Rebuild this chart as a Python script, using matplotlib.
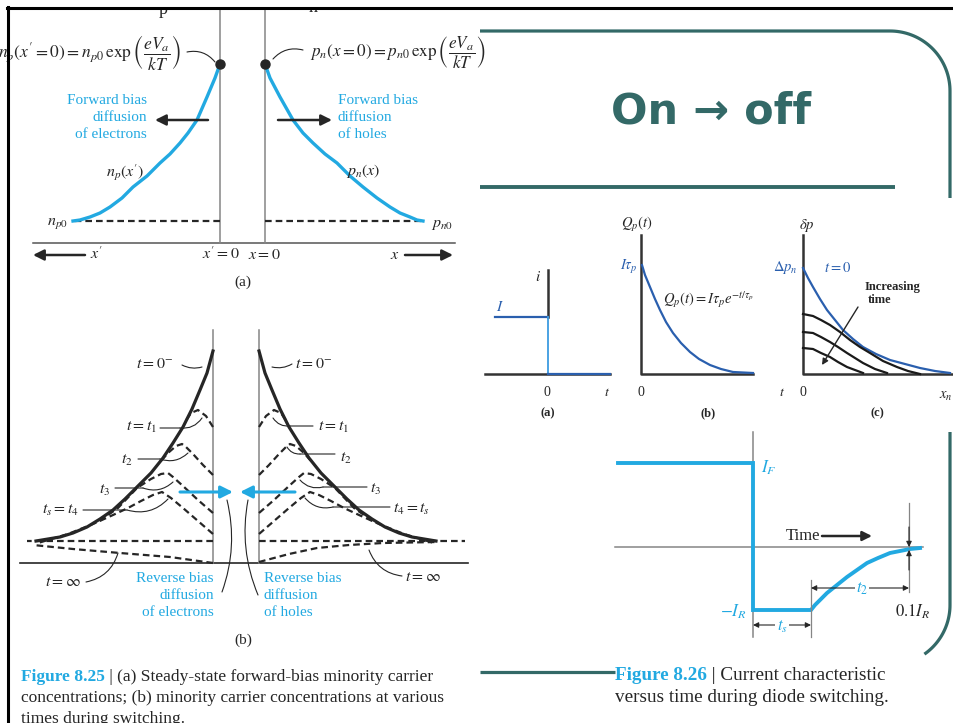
import numpy as np
import matplotlib.pyplot as plt

plt.rcParams['font.family'] = ['Liberation Serif', 'DejaVu Serif']
plt.rcParams['mathtext.fontset'] = 'stix'

W, H = 954, 723
INK = '#262626'
GREY = '#858585'
CYAN = '#22a9e1'
NAVY = '#2a5fae'
SKY = '#3d9be0'
TEAL = '#336967'

# Fig 8.25(a): steady-state excess carriers vs distance from each depletion edge
fwd_dist_p = [0, 5, 13, 23, 32, 40, 50, 60, 73, 87, 98, 110, 120, 130, 140, 147]
fwd_dist_n = [0, 5, 15, 28, 38, 48, 60, 72, 85, 98, 112, 125, 135, 145, 152, 158]
fwd_conc = [179, 165, 146, 123, 110, 100, 89, 80, 67, 56, 45, 36, 30, 26, 23, 22]
fwd_equil = 22

# Fig 8.25(b): minority carrier profiles during switching
rev_dist = [0, 6, 13, 21, 30, 40, 50, 62, 76, 88, 100, 113, 126, 140, 153, 165, 177]
rev_conc_0 = [212, 190, 173, 154, 136, 120, 105, 90, 76, 64, 53, 44, 36, 30, 26, 24, 22]
rev_dist_t1 = [0, 7, 15, 22, 28]
rev_conc_t1 = [136, 147, 153, 150, 141]
rev_dist_t2 = [0, 10, 20, 27, 31, 37, 45, 53]
rev_conc_t2 = [88, 98, 109, 116, 119, 117, 110, 101]
rev_dist_t3 = [0, 15, 30, 40, 45, 52, 62, 76, 95, 115]
rev_conc_t3 = [50, 63, 77, 86, 90, 89, 84, 75, 55, 41]
rev_dist_t4 = [0, 15, 30, 42, 51, 60, 72, 85, 100, 120, 145, 175]
rev_conc_t4 = [29, 42, 55, 65, 71, 68, 62, 55, 48, 39, 29, 20]
rev_dist_inf_p = [0, 43, 93, 140, 180]
rev_conc_inf_p = [0, 6, 10, 14, 18]
rev_dist_inf_n = [0, 30, 58, 90, 124, 178]
rev_conc_inf_n = [1, 9, 15, 18, 20, 21]
rev_equil = 22

# small figure: (a) current step, (b) stored charge, (c) hole profiles
step_t = [-53, 0, 0, 62]
step_i = [57, 57, 0, 0]
charge_t = [1, 4, 9, 14, 19, 25, 32, 40, 49, 58, 69, 80, 92, 112]
charge_q = [109, 99, 87, 75, 64, 52, 41, 31, 22, 15, 9, 5, 2, 1]
prof_x0 = [0, 5, 10, 17, 24, 32, 40, 50, 60, 73, 87, 102, 117, 132, 147]
prof_y0 = [106, 96, 87, 75, 64, 54, 44, 35, 27, 20, 14, 10, 6, 3, 1]
prof_x1 = [0, 10, 18, 27, 37, 47, 57, 67, 80, 94, 105, 117]
prof_y1 = [60, 58, 54, 49, 42, 34, 27, 21, 13, 7, 3, 0]
prof_x2 = [0, 10, 18, 27, 35, 44, 52, 60, 72, 84]
prof_y2 = [42, 41, 37, 32, 27, 21, 16, 11, 5, 1]
prof_x3 = [0, 10, 18, 27, 35, 44, 52, 60]
prof_y3 = [26, 25, 21, 17, 12, 7, 4, 1]

# Fig 8.26: diode current during switching
sw_t = [-135, 0, 0, 58, 62, 68, 74, 84, 94, 104, 114, 125, 137, 147, 157, 167]
sw_i = [84, 84, -63, -63, -58, -52, -46, -38, -30, -23, -16, -11, -6, -4, -2, -1]
t_storage = 58
t_fall_end = 156

DASH = dict(color=INK, lw=1.6, ls=(0, (3, 1.8)))

fig = plt.figure(figsize=(W / 100, H / 100), dpi=100)


def panel(left, top, right, bottom, ox, oy):
    ax = fig.add_axes([left / W, 1 - bottom / H, (right - left) / W, (bottom - top) / H])
    ax.set_xlim(left - ox, right - ox)
    ax.set_ylim(oy - bottom, oy - top)
    ax.axis('off')
    return ax


def leader(ax, p1, p2, rad=0.0, lw=0.8):
    ax.annotate('', xy=p2, xytext=p1,
                arrowprops=dict(arrowstyle='-', color=INK, lw=lw, shrinkA=0, shrinkB=0,
                                connectionstyle=f'arc3,rad={rad}'))


def arrow(ax, tail, head, color=INK, lw=1.8, scale=16, style='-|>'):
    ax.annotate('', xy=head, xytext=tail,
                arrowprops=dict(arrowstyle=style, color=color, lw=lw, shrinkA=0, shrinkB=0,
                                mutation_scale=scale))


def mirrored(ax, dist, conc, edge, **kw):
    d = np.asarray(dist, dtype=float) + edge
    ax.plot(-d, conc, **kw)
    ax.plot(d, conc, **kw)


# ---- Figure 8.25(a)
ax = panel(0, 8, 480, 290, 242.5, 243)
edge = 22.5
ax.plot([-209.5, 212.5], [0, 0], color='#555555', lw=1.1)
for s in (-1, 1):
    ax.plot([s * edge, s * edge], [0, 240], color=GREY, lw=1.1)
ax.plot([-edge, -edge - fwd_dist_p[-1]], [fwd_equil] * 2, **DASH)
ax.plot([edge, edge + fwd_dist_n[-1] + 2], [fwd_equil] * 2, **DASH)
ax.plot(-(edge + np.array(fwd_dist_p)), fwd_conc, color=CYAN, lw=2.4)
ax.plot(edge + np.array(fwd_dist_n), fwd_conc, color=CYAN, lw=2.4)
ax.plot([-edge, edge], [fwd_conc[0]] * 2, 'o', color=INK, ms=6.5, zorder=4)

ax.text(-60.5, 190, r"$n_p(x' = 0) = n_{p0}\,\exp\left(\dfrac{eV_a}{kT}\right)$",
        ha='right', va='center', fontsize=12.6, color=INK)
ax.text(67.5, 190, r"$p_n(x = 0) = p_{n0}\,\exp\left(\dfrac{eV_a}{kT}\right)$",
        ha='left', va='center', fontsize=12.3, color=INK)
leader(ax, (-55.5, 191), (-27.5, 181), rad=-0.3)
leader(ax, (30.5, 184), (60.5, 193), rad=-0.3)
ax.text(-79.5, 229, 'p', ha='center', va='baseline', fontsize=13, color=INK)
ax.text(70.5, 231, 'n', ha='center', va='baseline', fontsize=13, color=INK)

for k, line in enumerate(['Forward bias', 'diffusion', 'of electrons']):
    ax.text(-95.5, 143 - 17.5 * k, line, ha='right', va='center', fontsize=11, color=CYAN)
for k, line in enumerate(['Forward bias', 'diffusion', 'of holes']):
    ax.text(95.5, 143 - 17.5 * k, line, ha='left', va='center', fontsize=11, color=CYAN)
arrow(ax, (-34.5, 123), (-87.5, 123))
arrow(ax, (35.5, 123), (89.5, 123))
ax.text(-117.5, 70, r"$n_p(x')$", ha='center', va='center', fontsize=11.5, color=INK)
ax.text(120.5, 72, r"$p_n(x)$", ha='center', va='center', fontsize=11.5, color=INK)
ax.text(-185.5, 20, r"$n_{p0}$", ha='center', va='center', fontsize=11.5, color=INK)
ax.text(199.5, 19, r"$p_{n0}$", ha='center', va='center', fontsize=11.5, color=INK)
arrow(ax, (-157.5, -12), (-209.5, -12))
arrow(ax, (162.5, -12), (210.5, -12))
ax.text(-146.5, -12, r"$x'$", ha='center', va='center', fontsize=11.5, color=INK)
ax.text(152.5, -12, r"$x$", ha='center', va='center', fontsize=11.5, color=INK)
ax.text(-2.5, -12, r"$x' = 0$", ha='right', va='center', fontsize=11.5, color=INK)
ax.text(5.5, -12, r"$x = 0$", ha='left', va='center', fontsize=11.5, color=INK)
ax.text(0.5, -39, '(a)', ha='center', va='center', fontsize=11, color=INK)

# ---- Figure 8.25(b)
ax = panel(0, 290, 480, 660, 236, 563)
edge = 23
ax.plot([-216, 232], [0, 0], color=INK, lw=1.2)
for s in (-1, 1):
    ax.plot([s * edge, s * edge], [0, 233], color=GREY, lw=1.1)
ax.plot([-edge, -209], [rev_equil] * 2, **DASH)
ax.plot([edge, 229], [rev_equil] * 2, **DASH)
for dist, conc in [(rev_dist_t1, rev_conc_t1), (rev_dist_t2, rev_conc_t2),
                   (rev_dist_t3, rev_conc_t3), (rev_dist_t4, rev_conc_t4)]:
    mirrored(ax, dist, conc, edge, **DASH)
ax.plot(-(edge + np.array(rev_dist_inf_p)), rev_conc_inf_p, **DASH)
ax.plot(edge + np.array(rev_dist_inf_n), rev_conc_inf_n, **DASH)
mirrored(ax, rev_dist, rev_conc_0, edge, color=INK, lw=2.3)

ax.text(-81, 199, r'$t = 0^{-}$', ha='center', va='center', fontsize=11.5, color=INK)
ax.text(59, 199, r'$t = 0^{-}$', ha='left', va='center', fontsize=11.5, color=INK)
leader(ax, (-54, 198), (-34, 196), rad=0.2)
leader(ax, (36, 196), (56, 199), rad=0.2)

left_labels = [(r'$t = t_1$', -79, 136, (-76, 135), (-56, 135), (-34, 145)),
               (r'$t_2$', -103, 103, (-98, 104), (-76, 104), (-48, 110)),
               (r'$t_3$', -126, 73, (-121, 75), (-93, 75), (-63, 81)),
               (r'$t_s = t_4$', -157, 53, (-153, 53), (-109, 53), (-68, 64))]
for txt, x, y, p0, p1, p2 in left_labels:
    ax.text(x, y, txt, ha='right', va='center', fontsize=11.5, color=INK)
    leader(ax, p0, p1)
    leader(ax, p1, p2, rad=0.3)
right_labels = [(r'$t = t_1$', 82, 136, (77, 137), (54, 137), (37, 145)),
                (r'$t_2$', 104, 105, (99, 109), (64, 109), (51, 116)),
                (r'$t_3$', 134, 74, (131, 76), (87, 76), (64, 83)),
                (r'$t_4 = t_s$', 157, 54, (154, 56), (97, 56), (69, 65))]
for txt, x, y, p0, p1, p2 in right_labels:
    ax.text(x, y, txt, ha='left', va='center', fontsize=11.5, color=INK)
    leader(ax, p0, p1)
    leader(ax, p2, p1, rad=0.3)

ax.text(-173, -19, r'$t = \infty$', ha='center', va='center', fontsize=11.5, color=INK)
ax.text(187, -14, r'$t = \infty$', ha='center', va='center', fontsize=11.5, color=INK)
leader(ax, (-150, -19), (-118, 10), rad=0.3)
leader(ax, (133, 13), (166, -13), rad=0.3)

arrow(ax, (-56, 71), (-3, 71), color=CYAN, lw=2.2, scale=18)
arrow(ax, (59, 71), (4, 71), color=CYAN, lw=2.2, scale=18)
leader(ax, (-9, 63), (-14, -29), rad=-0.15)
leader(ax, (12, 63), (22, -32), rad=0.15)
for k, line in enumerate(['Reverse bias', 'diffusion', 'of electrons']):
    ax.text(-22, -15 - 17.5 * k, line, ha='right', va='center', fontsize=11, color=CYAN)
for k, line in enumerate(['Reverse bias', 'diffusion', 'of holes']):
    ax.text(28, -15 - 17.5 * k, line, ha='left', va='center', fontsize=11, color=CYAN)
ax.text(7, -77, '(b)', ha='center', va='center', fontsize=11, color=INK)

# ---- small figure (a): terminal current
ax = panel(480, 200, 620, 425, 548, 374)
ax.plot([-63, 62], [0, 0], color='#333333', lw=1.8)
ax.plot([0, 0], [57, 104], color='#333333', lw=1.8)
ax.plot(step_t[:2], step_i[:2], color=NAVY, lw=1.6)
ax.plot(step_t[1:3], step_i[1:3], color=SKY, lw=1.3)
ax.plot(step_t[2:], step_i[2:], color=NAVY, lw=1.6)
ax.text(-10, 97, r'$i$', ha='center', va='center', fontsize=11, color=INK)
ax.text(-48, 67, r'$I$', ha='center', va='center', fontsize=11, color=NAVY)
ax.text(-1, -18, '0', ha='center', va='center', fontsize=10, color=INK)
ax.text(59, -18, r'$t$', ha='center', va='center', fontsize=10, color=INK)
ax.text(0, -39, '(a)', ha='center', va='center', fontsize=9, weight='bold', color=INK)

# ---- small figure (b): stored charge
ax = panel(600, 200, 790, 425, 641, 374)
ax.plot([0, 0, 112], [139, 0, 0], color='#333333', lw=1.8)
ax.plot(charge_t, charge_q, color=NAVY, lw=1.6)
ax.text(-4, 149, r'$Q_p(t)$', ha='center', va='center', fontsize=10.5, color=INK)
ax.text(-3, 107, r'$I\tau_p$', ha='right', va='center', fontsize=10.5, color=NAVY)
ax.text(22, 74, r'$Q_p(t) = I\tau_p e^{-t/\tau_p}$', ha='left', va='center',
        fontsize=10.5, color=INK)
ax.text(0, -18, '0', ha='center', va='center', fontsize=10, color=INK)
ax.text(141, -18, r'$t$', ha='center', va='center', fontsize=10, color=INK)
ax.text(67, -39, '(b)', ha='center', va='center', fontsize=9, weight='bold', color=INK)

# ---- small figure (c): excess hole distribution
ax = panel(770, 200, 954, 425, 803, 374)
ax.plot([0, 0, 150], [139, 0, 0], color='#333333', lw=1.8)
ax.plot(prof_x0, prof_y0, color=NAVY, lw=1.6)
for px, py in [(prof_x1, prof_y1), (prof_x2, prof_y2), (prof_x3, prof_y3)]:
    ax.plot(px, py, color='#1a1a1a', lw=1.6)
ax.text(4, 149, r'$\delta p$', ha='center', va='center', fontsize=10.5, color=INK)
ax.text(-5, 106, r'$\Delta p_n$', ha='right', va='center', fontsize=10.5, color=NAVY)
ax.text(35, 106, r'$t = 0$', ha='center', va='center', fontsize=10.5, color=NAVY)
ax.text(89, 87, 'Increasing', ha='center', va='center', fontsize=9, weight='bold', color=INK)
ax.text(77, 74, 'time', ha='center', va='center', fontsize=9, weight='bold', color=INK)
arrow(ax, (55, 67), (19, 9), lw=1.0, scale=9)
ax.text(0, -18, '0', ha='center', va='center', fontsize=10, color=INK)
ax.text(143, -22, r'$x_n$', ha='center', va='center', fontsize=10.5, color=INK)
ax.text(74, -39, '(c)', ha='center', va='center', fontsize=9, weight='bold', color=INK)

# ---- Figure 8.26: current vs time
ax = panel(600, 425, 954, 660, 753, 547)
ax.plot([0, 0], [115, -90], color=GREY, lw=1.1)
ax.plot([-138, 170], [0, 0], color=GREY, lw=1.1)
ax.plot(sw_t, sw_i, color=CYAN, lw=2.8, solid_joinstyle='miter')
ax.text(8, 79, r'$I_F$', ha='left', va='center', fontsize=12.5, color=CYAN)
ax.text(-6, -65, r'$-I_R$', ha='right', va='center', fontsize=12.5, color=CYAN)
ax.text(50, 11, 'Time', ha='center', va='center', fontsize=12, color=INK)
arrow(ax, (69, 11), (119, 11), lw=1.8, scale=14)
ax.plot([t_fall_end, t_fall_end], [44, 0], color=GREY, lw=0.9)
ax.plot([t_fall_end, t_fall_end], [-45, -3], color=GREY, lw=0.9)
arrow(ax, (t_fall_end, 20), (t_fall_end, 0), lw=0.8, scale=8)
arrow(ax, (t_fall_end, -23), (t_fall_end, -3), lw=0.8, scale=8)
ax.text(160, -65, r'$0.1I_R$', ha='center', va='center', fontsize=12, color=INK)
ax.plot([t_storage, t_storage], [-33, -90], color=GREY, lw=0.9)
arrow(ax, (109, -41), (t_storage, -41), lw=0.8, scale=8)
arrow(ax, (109, -41), (t_fall_end, -41), lw=0.8, scale=8)
ax.text(109, -42, r'$t_2$', ha='center', va='center', fontsize=12, color=CYAN,
        bbox=dict(fc='white', ec='none', pad=1))
arrow(ax, (29, -78), (0, -78), lw=0.8, scale=8)
arrow(ax, (29, -78), (t_storage, -78), lw=0.8, scale=8)
ax.text(29, -80, r'$t_s$', ha='center', va='center', fontsize=12, color=CYAN,
        bbox=dict(fc='white', ec='none', pad=1))

# ---- slide frame, title and captions (pixel space, y down)
top = fig.add_axes([0, 0, 1, 1], zorder=5)
top.set_xlim(0, W)
top.set_ylim(H, 0)
top.axis('off')
top.add_patch(plt.Rectangle((0, 0), W, 8, color='white', zorder=1))
top.plot([7, W], [8, 8], color='black', lw=2.2, zorder=2)
top.plot([8, 8], [7, H], color='black', lw=2.2, zorder=2)

a = np.linspace(0, np.pi / 2, 40)
top.plot(np.r_[480, 890 + 60 * np.sin(a), 950], np.r_[31, 91 - 60 * np.cos(a), 198],
         color=TEAL, lw=2.3, solid_capstyle='butt')
b = np.linspace(0, np.radians(55), 30)
top.plot(np.r_[950, 890 + 60 * np.cos(b)], np.r_[432, 605 + 60 * np.sin(b)],
         color=TEAL, lw=2.3, solid_capstyle='butt')
top.plot([480, 895], [187, 187], color=TEAL, lw=2.8, solid_capstyle='butt')
top.plot([480, 615], [672, 672], color=TEAL, lw=2.3, solid_capstyle='butt')
top.text(711, 112, 'On \u2192 off', ha='center', va='center', fontsize=31,
         family='DejaVu Sans', weight='bold', color=TEAL)

cap = top.text(21, 677, 'Figure 8.25', ha='left', va='center', fontsize=12.5,
               weight='bold', color=CYAN)
top.annotate(' | (a) Steady-state forward-bias minority carrier', xy=(1, 0),
             xycoords=cap, ha='left', va='bottom', fontsize=12.5, color=INK)
top.text(21, 698, 'concentrations; (b) minority carrier concentrations at various',
         ha='left', va='center', fontsize=12.5, color=INK)
top.text(21, 719, 'times during switching.', ha='left', va='center', fontsize=12.5, color=INK)

cap = top.text(615, 675, 'Figure 8.26', ha='left', va='center', fontsize=13.8,
               weight='bold', color=CYAN)
top.annotate(' | Current characteristic', xy=(1, 0), xycoords=cap, ha='left',
             va='bottom', fontsize=13.8, color=INK)
top.text(615, 697, 'versus time during diode switching.', ha='left', va='center',
         fontsize=13.8, color=INK)

fig.savefig('out.png', dpi=100)
